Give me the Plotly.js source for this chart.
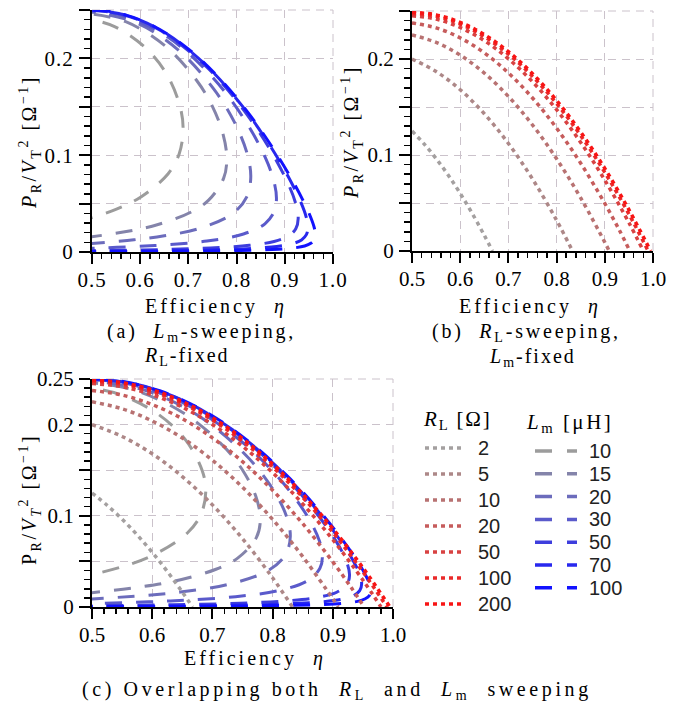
<!DOCTYPE html>
<html><head><meta charset="utf-8">
<script src="https://cdn.plot.ly/plotly-3.0.1.min.js"></script>
<style>
html,body{margin:0;padding:0;background:#fff;}
#chart{width:681px;height:706px;}
text.annotation-text[style*="Serif"]{letter-spacing:2.5px;}
text.annotation-text[data-unformatted^="Efficiency"]{letter-spacing:3px;}
text.annotation-text[data-unformatted^="(a)"],text.annotation-text[data-unformatted^="(b)"]{letter-spacing:2.8px;}
text.annotation-text[data-unformatted^="(c)"]{letter-spacing:3.6px;}
text.annotation-text[data-unformatted$="-fixed"]{letter-spacing:2px;}
text.annotation-text[data-unformatted*="sub>L</sub> ["]{letter-spacing:1.8px;}
.xtick text,.ytick text{letter-spacing:1px;}
</style></head><body><div id="chart"></div>
<script>
// ---------- data: R_L sweeping curves (efficiency, P_R/V_T^2) ----------
const rlLabels = ['2', '5', '10', '20', '50', '100', '200'];
const etaRL2   = [0.5, 0.525, 0.55, 0.575, 0.6, 0.625, 0.65, 0.667];
const pRL2     = [0.125, 0.1116, 0.0963, 0.0791, 0.06, 0.0391, 0.0163, 0];
const etaRL5   = [0.5, 0.55, 0.6, 0.65, 0.7, 0.75, 0.8, 0.833];
const pRL5     = [0.2, 0.187, 0.168, 0.143, 0.112, 0.075, 0.032, 0];
const etaRL10  = [0.5, 0.55, 0.6, 0.65, 0.7, 0.75, 0.8, 0.85, 0.9, 0.909];
const pRL10    = [0.225, 0.2173, 0.204, 0.1853, 0.161, 0.1313, 0.096, 0.0553, 0.009, 0];
const etaRL20  = [0.5, 0.55, 0.6, 0.65, 0.7, 0.75, 0.8, 0.85, 0.9, 0.93, 0.952];
const pRL20    = [0.2375, 0.2324, 0.222, 0.2064, 0.1855, 0.1594, 0.128, 0.0914, 0.0495, 0.0219, 0];
const etaRL50  = [0.5, 0.55, 0.6, 0.65, 0.7, 0.75, 0.8, 0.85, 0.9, 0.95, 0.98];
const pRL50    = [0.245, 0.2415, 0.2328, 0.2191, 0.2002, 0.1763, 0.1472, 0.1131, 0.0738, 0.0295, 0];
const etaRL100 = [0.5, 0.55, 0.6, 0.65, 0.7, 0.75, 0.8, 0.85, 0.9, 0.95, 0.99];
const pRL100   = [0.2475, 0.2445, 0.2364, 0.2233, 0.2051, 0.1819, 0.1536, 0.1203, 0.0819, 0.0385, 0];
const etaRL200 = [0.5, 0.55, 0.6, 0.65, 0.7, 0.75, 0.8, 0.85, 0.9, 0.95, 0.995];
const pRL200   = [0.2488, 0.246, 0.2382, 0.2254, 0.2076, 0.1847, 0.1568, 0.1239, 0.086, 0.043, 0];

// ---------- data: L_m sweeping curves (efficiency, P_R/V_T^2) ----------
const lmLabels = ['10', '15', '20', '30', '50', '70', '100'];
const etaLm10  = [0.467, 0.552, 0.603, 0.658, 0.681, 0.689, 0.683, 0.656, 0.611, 0.548, 0.4945];
const pLm10    = [0.0306, 0.0445, 0.0574, 0.0809, 0.1016, 0.1268, 0.1497, 0.1827, 0.2109, 0.2326, 0.2406];
const etaLm15  = [0.485, 0.5775, 0.637, 0.706, 0.742, 0.773, 0.7796, 0.772, 0.7505, 0.7176, 0.6526, 0.570, 0.4967];
const pLm15    = [0.0147, 0.0217, 0.0284, 0.0414, 0.0536, 0.076, 0.0965, 0.1216, 0.1497, 0.1769, 0.2125, 0.2379, 0.246];
const etaLm20  = [0.491, 0.587, 0.650, 0.7246, 0.7917, 0.8211, 0.8294, 0.8221, 0.796, 0.752, 0.6774, 0.5921, 0.5021, 0.4914];
const pLm20    = [0.0085, 0.0126, 0.0167, 0.0246, 0.0396, 0.057, 0.0773, 0.1012, 0.1336, 0.1688, 0.2094, 0.2368, 0.2477, 0.2478];
const etaLm30  = [0.4702, 0.4961, 0.5942, 0.659, 0.7385, 0.8143, 0.8588, 0.8786, 0.8827, 0.8779, 0.8592, 0.8179, 0.7508, 0.6571, 0.5581, 0.4939];
const pLm30    = [0.0035, 0.0038, 0.0057, 0.0076, 0.0113, 0.0186, 0.0291, 0.0424, 0.055, 0.0722, 0.0979, 0.1356, 0.1801, 0.222, 0.2451, 0.249];
const etaLm50  = [0.4724, 0.4986, 0.5979, 0.6639, 0.7458, 0.8264, 0.8778, 0.9065, 0.9228, 0.9278, 0.9226, 0.9061, 0.8673, 0.8107, 0.7367, 0.6384, 0.5631, 0.4965];
const pLm50    = [0.0013, 0.0014, 0.0021, 0.0028, 0.0042, 0.0069, 0.0109, 0.0162, 0.024, 0.0347, 0.0502, 0.0714, 0.1076, 0.1493, 0.1918, 0.2298, 0.2454, 0.2496];
const etaLm70  = [0.473, 0.4993, 0.5989, 0.6652, 0.7479, 0.8298, 0.8832, 0.9146, 0.9347, 0.9447, 0.9479, 0.9443, 0.9336, 0.9073, 0.8699, 0.8107, 0.7347, 0.6497, 0.5703, 0.4991];
const pLm70    = [0.0006, 0.0007, 0.0011, 0.0014, 0.0021, 0.0036, 0.0057, 0.0084, 0.0125, 0.0179, 0.0253, 0.0364, 0.0511, 0.0777, 0.1094, 0.1514, 0.1938, 0.227, 0.2447, 0.2498];
const etaLm100 = [0.4735, 0.4996, 0.5995, 0.666, 0.749, 0.8316, 0.8861, 0.9189, 0.9411, 0.9539, 0.9609, 0.9632, 0.9612, 0.9539, 0.9407, 0.9155, 0.8745, 0.8246, 0.7591, 0.6862, 0.6126, 0.5427, 0.4956];
const pLm100   = [0.0003, 0.0004, 0.0005, 0.0007, 0.0011, 0.0018, 0.0028, 0.0042, 0.0062, 0.009, 0.0126, 0.018, 0.025, 0.0357, 0.0503, 0.0741, 0.1078, 0.1435, 0.1822, 0.215, 0.2371, 0.2481, 0.2499];

// ---------- axis tick labels ----------
const xTickVals = [0.5, 0.6, 0.7, 0.8, 0.9, 1.0];
const xTickText = ['0.5', '0.6', '0.7', '0.8', '0.9', '1.0'];
const yTickVals = [0, 0.05, 0.1, 0.15, 0.2, 0.25];
const yTickText = ['0', '', '0.1', '', '0.2', '0.25'];

// ---------- styles ----------
const rlColors = ['#a4a0a0', '#ad8888', '#b87272', '#c65c5c', '#d84242', '#ea2a2a', '#f81414'];
const lmColors = ['#9c9c9c', '#8484aa', '#6c6cbc', '#5a5acb', '#3e3edd', '#2828ee', '#1212ff'];
const rlEta = [etaRL2, etaRL5, etaRL10, etaRL20, etaRL50, etaRL100, etaRL200];
const rlP   = [pRL2, pRL5, pRL10, pRL20, pRL50, pRL100, pRL200];
const lmEta = [etaLm10, etaLm15, etaLm20, etaLm30, etaLm50, etaLm70, etaLm100];
const lmP   = [pLm10, pLm15, pLm20, pLm30, pLm50, pLm70, pLm100];

const SERIF = 'Liberation Serif, Times New Roman, serif';
const SANS = 'Liberation Sans, Arial, sans-serif';
const DOT = '4px,4px';
const DASH = '17px,14px';
const GRID = '#cbc2cb';
const NB = '\u00a0';

const traces = [];
function lmTrace(i, xa, ya) {
  return {x: lmEta[i], y: lmP[i], xaxis: xa, yaxis: ya, type: 'scatter', mode: 'lines',
    name: lmLabels[i], showlegend: false,
    line: {color: lmColors[i], width: 3, dash: DASH, shape: 'spline'}};
}
function rlTrace(i, xa, ya) {
  return {x: rlEta[i], y: rlP[i], xaxis: xa, yaxis: ya, type: 'scatter', mode: 'lines',
    name: rlLabels[i], showlegend: false,
    line: {color: rlColors[i], width: 3.5, dash: DOT, shape: 'spline'}};
}
for (let i = 0; i < 7; i++) traces.push(lmTrace(i, 'x', 'y'));
for (let i = 0; i < 7; i++) traces.push(rlTrace(i, 'x2', 'y2'));
for (let i = 0; i < 7; i++) traces.push(lmTrace(i, 'x3', 'y3'));
for (let i = 0; i < 7; i++) traces.push(rlTrace(i, 'x3', 'y3'));

const W = 681, H = 706;
const px = v => v / W, py = v => 1 - v / H;

function xAxis(d0, d1, anchor) {
  return {domain: [px(d0), px(d1)], anchor: anchor, range: [0.5, 1.0], fixedrange: true,
    tickmode: 'array', tickvals: xTickVals, ticktext: xTickText, ticklabelstandoff: -2,
    showline: true, linecolor: '#000', linewidth: 2, ticks: 'outside', ticklen: 10, tickwidth: 2, tickcolor: '#000',
    showgrid: true, gridcolor: GRID, gridwidth: 1, griddash: '8px,6px', zeroline: false,
    tickfont: {family: SERIF, size: 21, color: '#000'},
    minor: {tickmode: 'linear', tick0: 0.5, dtick: 0.02, ticks: 'outside', ticklen: 5, tickwidth: 1.5, tickcolor: '#000', showgrid: false}};
}
function yAxis(d0, d1, anchor) {
  return {domain: [py(d1), py(d0)], anchor: anchor, range: [0, 0.25], fixedrange: true,
    tickmode: 'array', tickvals: yTickVals, ticktext: yTickText, ticklabelstandoff: 1,
    showline: true, linecolor: '#000', linewidth: 2, ticks: 'outside', ticklen: 11, tickwidth: 2, tickcolor: '#000',
    showgrid: true, gridcolor: GRID, gridwidth: 1, griddash: '8px,6px', zeroline: false,
    tickfont: {family: SERIF, size: 21, color: '#000'},
    minor: {tickmode: 'linear', tick0: 0, dtick: 0.01, ticks: 'outside', ticklen: 6, tickwidth: 1.5, tickcolor: '#000', showgrid: false}};
}

const yTitleA = '<i>P</i><sub>R</sub>/<i>V</i><sub>T</sub><sup>2</sup> [Ω<sup>−1</sup>]';
const yTitleC = 'P<sub>R</sub>/<i>V</i><sub><i>T</i></sub><sup>2</sup> [Ω<sup>−1</sup>]';
const effTitle = 'Efficiency' + NB + NB + '<i>η</i>';
const f20 = {family: SERIF, size: 20, color: '#000'};
function ann(text, x, y, xanchor, extra) {
  return Object.assign({text: text, xref: 'paper', yref: 'paper', x: px(x), y: py(y),
    xanchor: xanchor, yanchor: 'middle', showarrow: false, font: f20}, extra || {});
}

const annotations = [
  ann(effTitle, 216, 306, 'center'),
  ann('(a)' + NB + NB + '<i>L</i><sub>m</sub>-sweeping,', 105, 332, 'left'),
  ann('<i>R</i><sub>L</sub>-fixed', 142, 356, 'left'),
  ann(effTitle, 530, 306, 'center'),
  ann('(b)' + NB + NB + '<i>R</i><sub>L</sub>-sweeping,', 430, 332, 'left'),
  ann('<i>L</i><sub>m</sub>-fixed', 487, 358, 'left'),
  ann(effTitle, 255, 658, 'center'),
  ann('(c) Overlapping both' + NB + NB + '<i>R</i><sub>L</sub>' + NB + NB + 'and' + NB + NB + '<i>L</i><sub>m</sub>' + NB + NB + 'sweeping', 337, 690, 'center'),
  ann(yTitleA, 30, 142, 'center', {textangle: -90}),
  ann(yTitleA, 352, 132, 'center', {textangle: -90}),
  ann(yTitleC, 30, 500, 'center', {textangle: -90}),
  // legend headers
  ann('<i>R</i><sub>L</sub> [Ω]', 421, 420, 'left', {font: {family: SERIF, size: 21, color: '#000'}}),
  ann('<i>L</i><sub>m</sub> [μH]', 524, 423, 'left', {font: {family: SERIF, size: 21, color: '#000'}})
];

const shapes = [];
// dashed top and right frame lines (grid style) for each panel
[['x', 'y'], ['x2', 'y2'], ['x3', 'y3']].forEach(([xa, ya]) => {
  shapes.push({type: 'line', xref: xa + ' domain', yref: ya + ' domain', x0: 0, x1: 1, y0: 1, y1: 1,
    line: {color: GRID, width: 1, dash: '8px,6px'}, layer: 'below'});
  shapes.push({type: 'line', xref: xa + ' domain', yref: ya + ' domain', x0: 1, x1: 1, y0: 0, y1: 1,
    line: {color: GRID, width: 1, dash: '8px,6px'}, layer: 'below'});
});

// legend (built from labels and styles)
const legFont = {family: SANS, size: 20, color: '#222'};
for (let i = 0; i < rlLabels.length; i++) {
  const ry = 448 + 26 * i;
  shapes.push({type: 'line', xref: 'paper', yref: 'paper', x0: px(425), x1: px(462), y0: py(ry), y1: py(ry),
    line: {color: rlColors[i], width: 3.5, dash: DOT}});
  annotations.push(ann(rlLabels[i], 476, ry, 'left', {font: legFont}));
}
for (let i = 0; i < lmLabels.length; i++) {
  const ry = 451 + 22.8 * i;
  shapes.push({type: 'line', xref: 'paper', yref: 'paper', x0: px(535), x1: px(577), y0: py(ry), y1: py(ry),
    line: {color: lmColors[i], width: 3.5, dash: '17px,15px'}});
  annotations.push(ann(lmLabels[i], 587, ry, 'left', {font: legFont}));
}

const layout = {
  width: W, height: H, margin: {l: 0, r: 0, t: 0, b: 0},
  paper_bgcolor: '#fff', plot_bgcolor: '#fff', showlegend: false,
  xaxis: xAxis(92, 333, 'y'), yaxis: yAxis(10, 252, 'x'),
  xaxis2: xAxis(412, 653, 'y2'), yaxis2: yAxis(11, 251, 'x2'),
  xaxis3: xAxis(92, 393, 'y3'), yaxis3: yAxis(379, 607, 'x3'),
  annotations: annotations, shapes: shapes,
  hovermode: false
};

Plotly.newPlot('chart', traces, layout, {staticPlot: true, displayModeBar: false});
</script></body></html>
